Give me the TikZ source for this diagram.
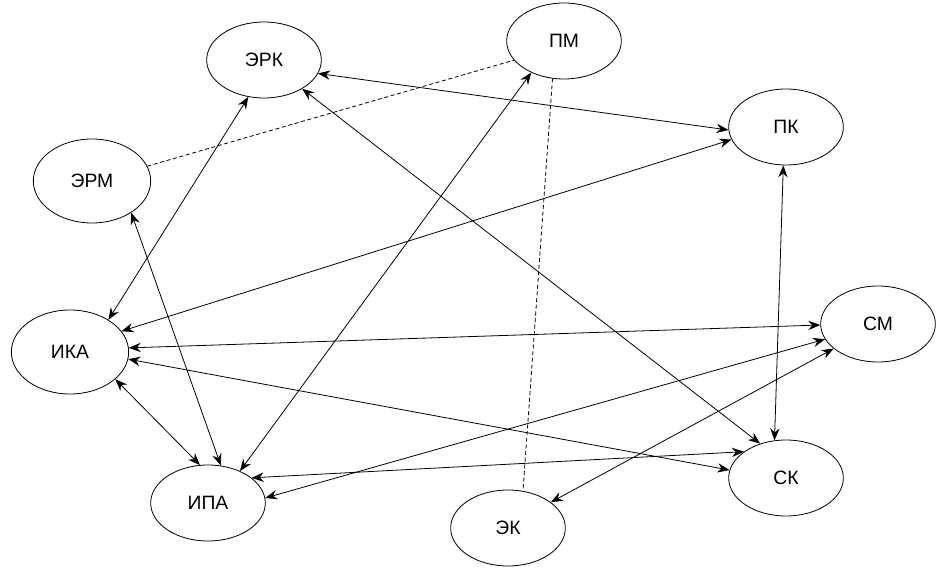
\documentclass[tikz,border=0pt]{standalone}
\usepackage{fontspec}
\setmainfont{Liberation Sans}
\usepackage{tikz}
\usetikzlibrary{arrows.meta,shapes.geometric}

\begin{document}
\begin{tikzpicture}[x=0.75pt, y=-0.75pt, font=\fontsize{14.5}{16}\selectfont,
      unit/.style={draw, ellipse, line width=0.6pt, minimum width=86pt, minimum height=57pt, inner sep=0pt},
      wide/.style={unit, minimum width=88pt, minimum height=63pt},
      link/.style={line width=0.6pt, {Stealth[length=9pt,width=7pt,inset=3pt]}-{Stealth[length=9pt,width=7pt,inset=3pt]}},
      assoc/.style={line width=0.6pt, dashed, dash pattern=on 3pt off 2pt}]
    \useasboundingbox (0,0) rectangle (945,577);
    % nodes
    \node[unit] (erk) at (264,60)  {ЭРК};
    \node[unit] (pm)  at (564,41)  {ПМ};
    \node[unit] (pk)  at (786,127) {ПК};
    \node[wide] (erm) at (92,181)  {ЭРМ};
    \node[wide] (ika) at (70,352)  {ИКА};
    \node[unit] (sm)  at (878,324) {СМ};
    \node[unit] (ipa) at (208,503) {ИПА};
    \node[unit] (sk)  at (786,478) {СК};
    \node[unit] (ek)  at (508,528) {ЭК};
    % two-way links
    \draw[link] (erk.-14)  -- (pk.183);
    \draw[link] (ika.22)   -- (pk.193);
    \draw[link] (erk.247)  -- (ika.40);
    \draw[link] (erk.-37)  -- (sk.127);
    \draw[link] (pm.224)   -- (ipa.45);
    \draw[link] (erm.-39)  -- (ipa.71);
    \draw[link] (ika.4)    -- (sm.181);
    \draw[link] (ika.-7)   -- (sk.172);
    \draw[link] (ika.-31)  -- (ipa.102);
    \draw[link] (ipa.30)   -- (sk.148);
    \draw[link] (ipa.5)    -- (sm.196);
    \draw[link] (ek.31)    -- (sm.209);
    \draw[link] (pk.266)   -- (sk.107);
    % dashed
    \draw[assoc] (erm.15) -- (pm.201);
    \draw[assoc] (pm.253) -- (ek.68);
\end{tikzpicture}
\end{document}
